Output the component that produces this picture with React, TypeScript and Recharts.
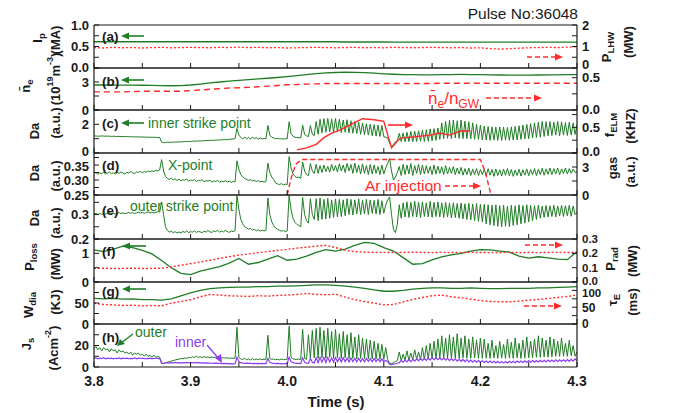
import { LineChart, Line, XAxis, YAxis } from 'recharts'

const F = 'Liberation Sans, Arial, sans-serif'
const GREEN = '#1f7d25'
const RED = '#ff2a2a'
const PURPLE = '#8a3cf0'
const INK = '#1a1a1a'

// time grids (s)
const tFine = Array.from({ length: 251 }, (_, i) => +(3.8 + i * 0.002).toFixed(3))
const tCoarse = Array.from({ length: 51 }, (_, i) => +(3.8 + i * 0.01).toFixed(2))
const xTicks = [3.8, 3.85, 3.9, 3.95, 4.0, 4.05, 4.1, 4.15, 4.2, 4.25, 4.3]

// (a) Ip (MA) and P_LHW (MW), 10 ms samples
const ipMA = [0.61, 0.61, 0.61, 0.61, 0.61, 0.61, 0.61, 0.61, 0.61, 0.61, 0.61, 0.61, 0.61, 0.61, 0.61, 0.61, 0.61, 0.61, 0.61, 0.61, 0.61, 0.61, 0.61, 0.61, 0.61, 0.61, 0.605, 0.605, 0.605, 0.605, 0.605, 0.6, 0.6, 0.6, 0.6, 0.6, 0.6, 0.6, 0.6, 0.6, 0.6, 0.6, 0.6, 0.6, 0.6, 0.6, 0.6, 0.6, 0.6, 0.6, 0.6]
const pLhw = [0.95, 0.93, 0.96, 0.94, 0.95, 0.93, 0.95, 0.96, 0.94, 0.95, 0.96, 0.95, 0.94, 0.96, 0.95, 0.97, 0.95, 0.96, 0.94, 0.95, 0.93, 0.94, 0.95, 0.96, 0.95, 0.94, 0.95, 0.96, 0.94, 0.95, 0.94, 0.96, 0.95, 0.94, 0.95, 0.96, 0.95, 0.94, 0.95, 0.93, 0.94, 0.9, 0.88, 0.9, 0.92, 0.94, 0.95, 0.96, 0.95, 0.97, 0.99]

// (b) line averaged density (1e19 m^-3) and Greenwald fraction
const neLine = [2.68, 2.68, 2.67, 2.67, 2.66, 2.65, 2.64, 2.62, 2.6, 2.62, 2.68, 2.78, 2.9, 3.0, 3.1, 3.18, 3.26, 3.33, 3.4, 3.48, 3.57, 3.68, 3.8, 3.9, 3.97, 4.02, 4.05, 4.04, 4.0, 3.95, 3.88, 3.83, 3.8, 3.78, 3.77, 3.77, 3.78, 3.8, 3.81, 3.8, 3.78, 3.76, 3.75, 3.74, 3.73, 3.74, 3.75, 3.76, 3.77, 3.78, 3.78]
const neGw = [0.28, 0.28, 0.28, 0.28, 0.285, 0.29, 0.29, 0.29, 0.29, 0.29, 0.3, 0.31, 0.32, 0.33, 0.34, 0.345, 0.35, 0.36, 0.37, 0.38, 0.39, 0.395, 0.4, 0.405, 0.41, 0.41, 0.41, 0.41, 0.41, 0.41, 0.41, 0.41, 0.41, 0.41, 0.41, 0.41, 0.415, 0.415, 0.415, 0.415, 0.415, 0.415, 0.415, 0.415, 0.415, 0.415, 0.415, 0.415, 0.415, 0.415, 0.415]

// (c) inner strike point Da (a.u.), 2 ms samples, and f_ELM (kHz)
const daInner = [
  1.18, 1.19, 1.17, 1.18, 1.19, 1.18, 1.17, 1.18, 1.17, 1.16, 1.17, 1.16, 1.15, 1.16, 1.15, 1.14, 1.15, 1.14, 1.13, 1.14, 1.13, 1.12, 1.13, 1.12, 1.11, 1.12, 1.11, 1.1, 1.11, 1.1, 1.09, 1.1, 1.09, 1.08, 1.08,
  0.76, 0.72, 0.73, 0.75, 0.74, 0.76, 0.75, 0.77, 0.76, 0.78, 0.77, 0.79, 0.8, 0.79, 0.81, 0.8, 0.82, 0.83, 0.82, 0.84, 0.85, 0.84, 0.86, 0.87, 0.86, 0.88, 0.89, 0.88, 0.9, 0.91, 0.9, 0.92, 0.93, 0.94, 0.93, 0.95, 0.97, 0.98, 1.0,
  1.72, 1.25, 1.08, 0.98, 1.12, 0.97, 1.1, 0.96, 1.12, 0.98, 1.08, 0.97, 1.05, 0.98, 1.01, 0.99, 1.92, 1.25, 1.1, 1.05, 1.0, 1.02, 0.98, 1.0, 0.97, 0.99, 1.0,
  2.18, 1.35, 1.18, 1.1, 1.08, 1.06, 1.05, 1.94, 1.3, 1.2, 1.15, 1.92, 1.3, 1.22,
  2.2, 1.3, 2.35, 1.4, 2.4, 1.45, 2.42, 1.48, 2.38, 1.45, 2.4, 1.5, 2.35, 1.42, 2.3, 1.45, 2.32, 1.4, 2.25, 1.38, 2.2, 1.35, 2.15, 1.3, 2.1, 1.28, 2.05, 1.25, 2.02, 1.2, 1.98, 1.18, 1.95, 1.15, 1.92, 1.13,
  1.1, 1.05, 0.7, 0.44, 0.6, 0.78, 0.85,
  1.37, 0.8, 1.4, 0.78, 1.45, 0.8, 1.5, 0.79, 1.52, 0.8, 1.55, 0.82, 1.6, 0.8, 1.62, 0.82, 1.68, 0.85, 1.7, 0.88, 1.75,
  0.95, 2.1, 1.0, 2.2, 1.02, 2.28, 1.0, 2.3, 1.05, 2.25, 1.02, 2.3, 1.0, 2.22, 1.0, 2.18, 0.98, 2.1, 0.96, 2.0, 0.95, 1.95,
  0.92, 1.88, 0.9, 1.85, 0.88, 1.82, 0.9, 1.8, 0.88, 1.82, 0.87, 1.8, 0.9, 1.78, 0.88, 1.82, 0.9, 1.85, 0.92, 1.9, 0.95, 1.95, 0.98, 2.0, 1.0, 2.05, 1.05, 2.1, 1.08,
  2.15, 1.1, 2.2, 1.15, 2.18, 1.2, 2.2, 1.22, 2.15, 1.25, 2.2, 1.2, 2.18, 1.25, 2.12, 1.22, 2.15, 1.25, 2.1, 1.3, 2.0,
]
const fElmTime = [4.01, 4.02, 4.03, 4.038, 4.045, 4.055, 4.065, 4.078, 4.09, 4.1, 4.108, 4.117, 4.134, 4.148, 4.158, 4.168, 4.179, 4.189]
const fElm = [0.06, 0.1, 0.17, 0.3, 0.38, 0.45, 0.55, 0.67, 0.65, 0.62, 0.1, 0.29, 0.32, 0.35, 0.39, 0.35, 0.43, 0.43]

// (d) X-point Da (a.u.) and Ar gas puff (a.u.)
const daXpt = [
  0.322, 0.325, 0.319, 0.324, 0.321, 0.326, 0.32, 0.323, 0.327, 0.321, 0.324, 0.32, 0.325, 0.322, 0.327, 0.323, 0.32, 0.326, 0.323, 0.328, 0.324, 0.321, 0.327, 0.325, 0.329, 0.324, 0.328, 0.326, 0.33, 0.327, 0.331, 0.328, 0.332, 0.33, 0.334,
  0.368, 0.33, 0.312, 0.305, 0.302, 0.306, 0.3, 0.304, 0.298, 0.303, 0.297, 0.301, 0.299, 0.304, 0.296, 0.3, 0.298, 0.302, 0.295, 0.299, 0.297, 0.301, 0.294, 0.298, 0.296, 0.3, 0.293, 0.297, 0.295, 0.299, 0.292, 0.296, 0.294, 0.298, 0.293, 0.296, 0.292, 0.295, 0.294,
  0.364, 0.335, 0.318, 0.31, 0.305, 0.302, 0.299, 0.301, 0.297, 0.299, 0.295, 0.298, 0.294, 0.296, 0.293, 0.295,
  0.356, 0.325, 0.31, 0.302, 0.29, 0.287, 0.285, 0.288, 0.284, 0.286, 0.285,
  0.378, 0.34, 0.32, 0.312, 0.308, 0.31, 0.305, 0.36, 0.33, 0.318, 0.315, 0.355, 0.33, 0.322,
  0.352, 0.322, 0.348, 0.325, 0.35, 0.328, 0.345, 0.326, 0.352, 0.33, 0.348, 0.327, 0.354, 0.33, 0.35, 0.325, 0.355, 0.33, 0.352, 0.322, 0.356, 0.325, 0.35, 0.32, 0.354, 0.322, 0.348, 0.318, 0.352, 0.32, 0.35, 0.322, 0.345, 0.318, 0.35, 0.32,
  0.34, 0.355, 0.372, 0.33, 0.3, 0.31, 0.325,
  0.345, 0.315, 0.352, 0.318, 0.35, 0.32, 0.355, 0.315, 0.348, 0.322, 0.352, 0.318, 0.35, 0.32, 0.348, 0.322, 0.345, 0.318, 0.35, 0.32, 0.346, 0.322, 0.344, 0.318, 0.348, 0.32, 0.342, 0.322, 0.345, 0.318, 0.34, 0.32, 0.342, 0.316, 0.338, 0.318, 0.34, 0.315, 0.336, 0.318, 0.338, 0.315, 0.335,
  0.318, 0.336, 0.314, 0.338, 0.316, 0.335, 0.312, 0.337, 0.315, 0.334, 0.313, 0.336, 0.316, 0.338, 0.314, 0.335, 0.312, 0.333, 0.315, 0.336, 0.313, 0.334, 0.316, 0.337, 0.314, 0.335, 0.317, 0.338, 0.315, 0.336, 0.318, 0.339, 0.316, 0.337, 0.319, 0.34, 0.318, 0.338, 0.32, 0.34, 0.318, 0.337, 0.321, 0.34, 0.32, 0.338, 0.322, 0.336, 0.325, 0.328,
]
const gasTime = [4.0, 4.004, 4.009, 4.015, 4.2, 4.205, 4.211]
const gasAr = [0, 1.8, 3.3, 3.8, 3.8, 2.5, 0]

// (e) outer strike point Da (a.u.)
const daOuter = [
  0.302, 0.305, 0.3, 0.304, 0.301, 0.306, 0.302, 0.304, 0.307, 0.303, 0.306, 0.302, 0.305, 0.308, 0.304, 0.307, 0.303, 0.306, 0.309, 0.305, 0.308, 0.304, 0.307, 0.31, 0.306, 0.309, 0.305, 0.308, 0.311, 0.307, 0.31, 0.306, 0.309, 0.312, 0.31,
  0.352, 0.3, 0.25, 0.235, 0.228, 0.232, 0.226, 0.23, 0.224, 0.229, 0.225, 0.231, 0.227, 0.233, 0.226, 0.23, 0.228, 0.234, 0.227, 0.231, 0.229, 0.226, 0.232, 0.228, 0.235, 0.229, 0.227, 0.233, 0.23, 0.236, 0.228, 0.232, 0.229, 0.235, 0.231, 0.227, 0.233, 0.23, 0.234,
  0.378, 0.32, 0.28, 0.262, 0.25, 0.245, 0.24, 0.243, 0.236, 0.24, 0.234, 0.238, 0.232, 0.236, 0.233, 0.235,
  0.368, 0.3, 0.27, 0.255, 0.245, 0.24, 0.236, 0.232, 0.235, 0.23, 0.233,
  0.38, 0.32, 0.285, 0.268, 0.26, 0.255, 0.25, 0.37, 0.3, 0.275, 0.265, 0.365, 0.3, 0.28,
  0.365, 0.275, 0.368, 0.28, 0.362, 0.282, 0.366, 0.285, 0.36, 0.288, 0.364, 0.29, 0.362, 0.292, 0.36, 0.295, 0.365, 0.3, 0.362, 0.298, 0.36, 0.302, 0.364, 0.3, 0.358, 0.303, 0.362, 0.3, 0.36, 0.305, 0.358, 0.302, 0.362, 0.3, 0.356, 0.305,
  0.34, 0.36, 0.372, 0.3, 0.24, 0.226, 0.26,
  0.34, 0.285, 0.348, 0.29, 0.352, 0.288, 0.35, 0.292, 0.354, 0.29, 0.35, 0.288, 0.352, 0.292, 0.348, 0.29, 0.354, 0.288, 0.35, 0.292, 0.352, 0.29, 0.348, 0.288, 0.35, 0.29, 0.346, 0.286, 0.348, 0.288, 0.345, 0.285, 0.347, 0.282, 0.344, 0.28, 0.346, 0.278, 0.343, 0.275, 0.345, 0.272, 0.342,
  0.27, 0.342, 0.262, 0.34, 0.258, 0.338, 0.255, 0.34, 0.252, 0.336, 0.25, 0.338, 0.252, 0.335, 0.25, 0.338, 0.255, 0.336, 0.258, 0.34, 0.262, 0.337, 0.265, 0.34, 0.27, 0.338, 0.275, 0.336, 0.28, 0.338, 0.285, 0.335, 0.288, 0.337, 0.29, 0.336, 0.292, 0.338, 0.29, 0.335, 0.294, 0.337, 0.292, 0.336, 0.295, 0.338, 0.293, 0.335, 0.3, 0.31,
]

// (f) P_loss (MW) and P_rad (MW), 10 ms samples
const pLoss = [1.12, 1.06, 1.15, 1.25, 1.2, 1.1, 0.98, 0.75, 0.5, 0.3, 0.26, 0.38, 0.46, 0.54, 0.66, 0.82, 0.62, 0.68, 0.8, 0.92, 0.76, 0.8, 0.9, 1.03, 1.13, 1.08, 1.15, 1.28, 1.38, 1.35, 1.2, 1.08, 0.85, 0.62, 0.64, 0.77, 0.88, 0.95, 1.0, 1.08, 1.13, 1.12, 1.08, 1.04, 0.9, 0.83, 0.88, 0.84, 0.8, 0.78, 1.06]
const pRad = [0.095, 0.096, 0.094, 0.095, 0.096, 0.094, 0.095, 0.096, 0.105, 0.117, 0.128, 0.14, 0.152, 0.165, 0.177, 0.188, 0.196, 0.205, 0.213, 0.22, 0.228, 0.236, 0.243, 0.25, 0.256, 0.24, 0.222, 0.212, 0.208, 0.206, 0.207, 0.205, 0.206, 0.208, 0.206, 0.205, 0.207, 0.206, 0.205, 0.207, 0.206, 0.205, 0.206, 0.207, 0.205, 0.206, 0.205, 0.206, 0.207, 0.206, 0.205]

// (g) W_dia (kJ) and tau_E (ms)
const wDia = [61, 60, 61, 59, 60, 58, 58, 57, 60, 67, 74, 80, 84, 86, 87, 88, 88, 89, 89, 90, 90, 91, 92, 93, 93, 92, 90, 88, 85, 81, 78, 78, 80, 83, 85, 86, 86, 85, 85, 86, 85, 84, 84, 85, 85, 85, 86, 86, 87, 88, 89]
const tauE = [62, 58, 57, 55, 56, 54, 55, 54, 62, 67, 72, 81, 88, 86, 84, 83, 82, 84, 83, 85, 86, 88, 91, 88, 87, 89, 80, 72, 67, 62, 57, 58, 66, 73, 79, 84, 86, 81, 78, 74, 70, 67, 66, 66, 68, 71, 73, 76, 79, 82, 86]

// (h) divertor Langmuir probe J_s (A cm^-2), 2 ms samples
const jsOuter = [
  17, 19, 16, 18, 15, 18, 16, 17, 14, 17, 15, 16, 13, 16, 14, 15, 13, 14, 12, 14, 11, 13, 12, 13, 11, 12, 10, 12, 10, 11, 9, 11, 9, 10, 9,
  3.5, 3.2, 4, 4.5, 5, 5.5, 6, 6.5, 7, 7.2, 8, 7.5, 8.5, 8, 9, 8.5, 9.5, 9, 10, 9, 9.5, 8.8, 9.6, 9, 9.2, 8.7, 9.4, 8.8, 9.1, 8.5, 9, 8.4, 8.8, 8.2, 8.6, 8, 8.4, 7.9, 8.2,
  37, 9, 7.5, 7, 8, 6.8, 7.5, 6.5, 7.8, 6.6, 7.4, 6.8, 7.6, 6.9, 7.2, 7,
  29.5, 8, 7, 7.5, 6.8, 7.2, 6.6, 7.4, 6.8, 7, 7.2,
  38, 9, 7.5, 7.2, 7, 7.5, 6.8, 35, 8, 7.2, 30, 8, 34, 8.5,
  36, 8, 37, 8.5, 34, 8, 36, 9, 33, 8, 35, 8.5, 31, 8, 33, 8.5, 30, 7.8, 32, 8, 28, 7.5, 30, 8, 27, 7.8, 26, 7.5, 25, 7.6, 24, 7.4, 22, 7.2, 21, 7,
  18, 7, 3.4, 3, 4, 5, 6,
  14, 6, 12, 6.5, 15, 6, 13, 6.5, 16, 7, 14, 6.8, 18, 7, 20, 7.2, 22, 7.5, 24, 7.5, 26,
  8, 29, 8, 27, 8.5, 30, 8, 28, 8.2, 31, 8, 27, 8.5, 29, 8.2, 26, 8, 28, 8.4, 25, 8, 27,
  8, 26, 8.2, 22, 8, 25, 8.5, 20, 8, 24, 8.2, 21, 8, 26, 8.4, 23, 8, 27, 8.5, 22, 8, 25, 8.2, 28, 8.5, 24, 8.6, 26, 9,
  29, 9, 27, 9.5, 25, 9.2, 28, 9.5, 26, 10, 24, 9.8, 27, 10, 22, 10, 25, 10.5, 20, 10, 14,
]
const jsInner = [
  8, 8.5, 7.5, 8.2, 7.8, 8.6, 7.6, 8.3, 7.9, 8.4, 7.5, 8.1, 7.8, 8.5, 7.6, 8.2, 7.9, 8.3, 7.7, 8.1, 7.8, 8.4, 7.6, 8.2, 7.9, 8.3, 7.7, 8, 7.8, 8.2, 7.6, 8.1, 7.9, 8, 7.8,
  3.4, 3.5, 3.8, 4, 3.7, 4.1, 3.8, 4.2, 3.9, 4, 3.7, 4.1, 3.9, 4.2, 3.8, 4, 4.1, 3.9, 4.2, 3.8, 4, 3.7, 3.9, 3.6, 3.8, 3.5, 3.7, 3.4, 3.6, 3.3, 3.5, 3.2, 3.4, 3.1, 3.3, 3, 3.2, 3, 3.1,
  9, 5, 4, 3.6, 3.4, 3.6, 3.3, 3.5, 3.2, 3.4, 3.1, 3.3, 3.2, 3.4, 3.1, 3.2,
  8, 4.5, 3.6, 3.4, 3.2, 3.3, 3.1, 3.2, 3, 3.2, 3.1,
  9, 5, 4, 3.5, 3.4, 3.3, 3.2, 8.5, 4.5, 3.6, 3.4, 8, 4.5, 3.8,
  8.5, 4, 9, 4.5, 8.8, 4.2, 9, 4.6, 8.5, 4.4, 8.8, 4.8, 8.4, 4.6, 8.6, 5, 8.2, 4.8, 8.4, 5, 8, 4.8, 8.2, 5, 7.8, 4.8, 8, 5.2, 7.6, 5, 7.8, 5.2, 7.5, 5, 7.4, 5,
  6, 5, 2.5, 2.2, 2.6, 3, 3.5,
  4, 6, 4.5, 6.5, 4.8, 7, 5, 7.2, 5.5, 7.5, 5.8, 8, 6, 8.2, 6.2, 8.5, 6.5, 8.8, 6.6, 8.6, 6.8,
  8.5, 6.5, 8.2, 6.3, 8, 6, 7.8, 5.8, 7.5, 5.5, 7.2, 5.3, 7, 5, 6.8, 4.8, 6.5, 4.6, 6.2, 4.5, 6, 4.4,
  5.8, 4.2, 5.6, 4, 5.5, 3.9, 5.4, 3.8, 5.3, 3.8, 5.2, 3.7, 5.2, 3.8, 5.3, 3.9, 5.4, 4, 5.5, 4.1, 5.6, 4.2, 5.8, 4.3, 5.9, 4.4, 6, 4.5, 6.1,
  4.6, 6.2, 4.7, 6.3, 4.8, 6.4, 4.9, 6.5, 5, 6.6, 5, 6.7, 5.1, 6.8, 5.2, 7, 5.3, 7.2, 5.4, 7.5, 6,
]

const PL = 94
const PR = 577
const PAD = 10

const pts = (t: number[], v: number[]) => v.map((y, i) => ({ t: t[i], y }))

type Series = { data: { t: number; y: number }[]; axis: 'L' | 'R'; color: string; dash?: string; width?: number }
// label text per tick value; a tuple adds a vertical nudge and font size where neighbouring panels crowd
type Ax = { domain: [number, number]; ticks: number[]; labels: Record<string, string | [string, number, number?]> }

function xTick(axisY: number, withLabels: boolean) {
  return (p: any) => {
    const v = p.payload.value as number
    const major = Math.abs(v * 10 - Math.round(v * 10)) < 1e-6
    return (
      <g>
        <line x1={p.x} x2={p.x} y1={axisY} y2={axisY - 5} stroke={INK} />
        {withLabels && major && (
          <text x={p.x} y={axisY + 19} textAnchor="middle" fontSize={14} fontWeight="bold" fontFamily={F} fill={INK}>
            {v.toFixed(1)}
          </text>
        )}
      </g>
    )
  }
}

function yTick(side: 'L' | 'R', labels: Ax['labels']) {
  return (p: any) => {
    const v = p.payload.value as number
    const x0 = side === 'L' ? PL : PR
    const d = side === 'L' ? 5 : -5
    const raw = labels[String(v)]
    const lab = Array.isArray(raw) ? raw[0] : raw
    const dy = Array.isArray(raw) ? raw[1] : 0
    const fs = (Array.isArray(raw) && raw[2]) || 13
    return (
      <g>
        <line x1={x0} x2={x0 + d} y1={p.y} y2={p.y} stroke={INK} />
        {lab && (
          <text x={side === 'L' ? PL - 5 : PR + 5} y={p.y + fs * 0.35 + dy} textAnchor={side === 'L' ? 'end' : 'start'} fontSize={fs} fontWeight="bold" fontFamily={F} fill={INK}>
            {lab}
          </text>
        )}
      </g>
    )
  }
}

function Panel({ top, bottom, left, right, series, last }: { top: number; bottom: number; left: Ax; right: Ax; series: Series[]; last?: boolean }) {
  const h = bottom - top
  const extra = last ? 30 : PAD
  const axisY = PAD + h
  const frame = { stroke: INK, strokeWidth: 1.2 }
  return (
    <div style={{ position: 'absolute', left: 0, top: top - PAD }}>
      <LineChart width={681} height={h + PAD + extra} margin={{ top: PAD - 1, right: 681 - PR - 1, bottom: extra - 1, left: PL - 1 }}>
        <XAxis xAxisId="b" dataKey="t" type="number" domain={[3.8, 4.3]} ticks={xTicks} interval={0} height={1} allowDataOverflow
          axisLine={frame} tickLine={false} tick={xTick(axisY, !!last)} />
        <XAxis xAxisId="top" orientation="top" dataKey="t" type="number" domain={[3.8, 4.3]} ticks={[3.8, 4.3]} height={1}
          axisLine={frame} tickLine={false} tick={false} />
        <YAxis yAxisId="L" width={1} type="number" domain={left.domain} ticks={left.ticks} interval={0} allowDataOverflow
          axisLine={frame} tickLine={false} tick={yTick('L', left.labels)} />
        <YAxis yAxisId="R" orientation="right" width={1} type="number" domain={right.domain} ticks={right.ticks} interval={0} allowDataOverflow
          axisLine={frame} tickLine={false} tick={yTick('R', right.labels)} />
        {series.map((s, i) => (
          <Line key={i} data={s.data} dataKey="y" xAxisId="b" yAxisId={s.axis} type="linear" dot={false} activeDot={false}
            stroke={s.color} strokeWidth={s.width ?? 1} strokeDasharray={s.dash} isAnimationActive={false} />
        ))}
        {/* empty series so the top axis is always in use */}
        <Line data={[]} dataKey="y" xAxisId="top" yAxisId="R" dot={false} isAnimationActive={false} />
      </LineChart>
    </div>
  )
}

function VT({ x, y, children, size = 13 }: { x: number; y: number; children: any; size?: number }) {
  return (
    <text transform={`translate(${x},${y}) rotate(-90)`} textAnchor="middle" dominantBaseline="central" fontSize={size} fontWeight="bold" fontFamily={F} fill={INK}>
      {children}
    </text>
  )
}

function Arrow({ x1, x2, y, color, dash, left }: { x1: number; x2: number; y: number; color: string; dash?: string; left?: boolean }) {
  const tip = left ? x1 : x2
  const back = left ? tip + 8 : tip - 8
  return (
    <g>
      <line x1={left ? x1 + 6 : x1} x2={left ? x2 : x2 - 6} y1={y} y2={y} stroke={color} strokeWidth={1.6} strokeDasharray={dash} />
      <polygon points={`${tip},${y} ${back},${y - 3.5} ${back},${y + 3.5}`} fill={color} />
    </g>
  )
}

const sub = (s: string) => <tspan dy={4} fontSize={9.5}>{s}</tspan>
const sup = (s: string) => <tspan dy={-5} fontSize={9}>{s}</tspan>

export default function App() {
  const none: Ax = { domain: [0, 1], ticks: [], labels: {} }
  return (
    <div style={{ position: 'absolute', left: 0, top: 0, width: 681, height: 413, background: '#fff', fontFamily: F }}>
      <Panel top={25} bottom={68}
        left={{ domain: [0, 1], ticks: [0, 0.25, 0.5, 0.75, 1], labels: { '0': ['0.0', -1], '0.5': '0.5', '1': '1.0' } }}
        right={{ domain: [0, 2], ticks: [0, 0.5, 1, 1.5, 2], labels: { '0': ['0', -4], '1': '1', '2': '2' } }}
        series={[
          { data: pts(tCoarse, ipMA), axis: 'L', color: GREEN, width: 1.3 },
          { data: pts(tCoarse, pLhw), axis: 'R', color: RED, dash: '2 2', width: 1.3 },
        ]} />
      <Panel top={68} bottom={110}
        left={{ domain: [0, 4.5], ticks: [0, 1.5, 3, 4.5], labels: { '0': '0', '3': '3' } }}
        right={{ domain: [0, 0.65], ticks: [0, 0.25, 0.5], labels: { '0': ['0.0', -1], '0.5': '0.5' } }}
        series={[
          { data: pts(tCoarse, neLine), axis: 'L', color: GREEN, width: 1.3 },
          { data: pts(tCoarse, neGw), axis: 'R', color: RED, dash: '6 4', width: 1.4 },
        ]} />
      <Panel top={110} bottom={153}
        left={{ domain: [0, 3], ticks: [0, 1, 2, 3], labels: { '0': ['0', -2], '2': '2' } }}
        right={{ domain: [0, 0.84], ticks: [0, 0.25, 0.5, 0.75], labels: { '0': ['0.0', -2], '0.5': '0.5' } }}
        series={[
          { data: pts(tFine, daInner), axis: 'L', color: GREEN },
          { data: pts(fElmTime, fElm), axis: 'R', color: RED, width: 1.4 },
        ]} />
      <Panel top={153} bottom={195}
        left={{ domain: [0.25, 0.39], ticks: [0.25, 0.275, 0.3, 0.325, 0.35, 0.375], labels: { '0.25': '0.25', '0.3': '0.30', '0.35': ['0.35', 1] } }}
        right={{ domain: [0, 4.5], ticks: [0, 1.5, 3, 4.5], labels: { '0': '0', '3': '3' } }}
        series={[
          { data: pts(tFine, daXpt), axis: 'L', color: GREEN },
          { data: pts(gasTime, gasAr), axis: 'R', color: RED, dash: '5 3', width: 1.4 },
        ]} />
      <Panel top={195} bottom={239}
        left={{ domain: [0.2, 0.38], ticks: [0.2, 0.25, 0.3, 0.35], labels: { '0.2': '0.2', '0.3': '0.3' } }}
        right={none}
        series={[{ data: pts(tFine, daOuter), axis: 'L', color: GREEN }]} />
      <Panel top={239} bottom={282}
        left={{ domain: [0, 1.5], ticks: [0, 0.5, 1, 1.5], labels: { '0': '0', '1': '1' } }}
        right={{ domain: [0, 0.3], ticks: [0, 0.1, 0.2, 0.3], labels: { '0': ['0.0', -1, 11.5], '0.1': ['0.1', 0, 11.5], '0.2': ['0.2', 0, 11.5], '0.3': ['0.3', 0, 11.5] } }}
        series={[
          { data: pts(tCoarse, pLoss), axis: 'L', color: GREEN, width: 1.3 },
          { data: pts(tCoarse, pRad), axis: 'R', color: RED, dash: '2 2', width: 1.4 },
        ]} />
      <Panel top={282} bottom={324}
        left={{ domain: [0, 100], ticks: [0, 25, 50, 75, 100], labels: { '0': '0', '50': '50' } }}
        right={{ domain: [0, 125], ticks: [0, 25, 50, 75, 100, 125], labels: { '0': ['0', 0, 12], '50': ['50', 1, 12], '100': ['100', 3, 11.5] } }}
        series={[
          { data: pts(tCoarse, wDia), axis: 'L', color: GREEN, width: 1.3 },
          { data: pts(tCoarse, tauE), axis: 'R', color: RED, dash: '2 2', width: 1.4 },
        ]} />
      <Panel top={324} bottom={367} last
        left={{ domain: [0, 40], ticks: [0, 10, 20, 30], labels: { '0': '0', '20': '20' } }}
        right={none}
        series={[
          { data: pts(tFine, jsOuter), axis: 'L', color: GREEN },
          { data: pts(tFine, jsInner), axis: 'L', color: PURPLE, width: 1.2 },
        ]} />

      <svg width={681} height={413} style={{ position: 'absolute', left: 0, top: 0, pointerEvents: 'none' }}>
        <text x={578} y={19} textAnchor="end" fontSize={15.5} fontFamily={F} fill={INK}>Pulse No:36048</text>
        <text x={336} y={407} textAnchor="middle" fontSize={15} fontWeight="bold" fontFamily={F} fill={INK}>Time (s)</text>

        {/* left titles */}
        <VT x={37} y={38}>I{sub('p')}</VT>
        <VT x={55} y={40}>(MA)</VT>
        <VT x={25} y={86}>{'n\u0304'}{sub('e')}</VT>
        <VT x={55} y={79}>(10{sup('19')}<tspan dy={5}>m</tspan>{sup('-3')}<tspan dy={5}>)</tspan></VT>
        <VT x={34} y={131}>Da</VT>
        <VT x={55} y={123}>(a.u.)</VT>
        <VT x={34} y={173}>Da</VT>
        <VT x={55} y={176}>(a.u.)</VT>
        <VT x={34} y={218}>Da</VT>
        <VT x={55} y={223}>(a.u.)</VT>
        <VT x={29} y={257}>P{sub('loss')}</VT>
        <VT x={55} y={264}>(MW)</VT>
        <VT x={28} y={305}>W{sub('dia')}</VT>
        <VT x={55} y={302}>(KJ)</VT>
        <VT x={26} y={344}>J{sub('s')}</VT>
        <VT x={53} y={348}>(Acm{sup('-2')}<tspan dy={5}>)</tspan></VT>

        {/* right titles */}
        <VT x={606} y={47}>P{sub('LHW')}</VT>
        <VT x={628} y={42}>(MW)</VT>
        <VT x={609} y={125}>f{sub('ELM')}</VT>
        <VT x={630} y={126}>(KHZ)</VT>
        <VT x={612} y={168}>gas</VT>
        <VT x={630} y={172}>(a.u.)</VT>
        <VT x={610} y={259}>P{sub('rad')}</VT>
        <VT x={632} y={261}>(MW)</VT>
        <VT x={612} y={300}>{'\u03c4'}{sub('E')}</VT>
        <VT x={632} y={302}>(ms)</VT>

        {/* panel tags */}
        {[['(a)', 36], ['(b)', 81], ['(c)', 123], ['(d)', 165], ['(e)', 210], ['(f)', 251], ['(g)', 291], ['(h)', 337]].map(([s, y]) => (
          <text key={s as string} x={102} y={(y as number) + 5} fontSize={13.5} fontWeight="bold" fontFamily={F} fill={INK}>{s}</text>
        ))}
        <Arrow x1={121} x2={144} y={36} color={GREEN} left />
        <Arrow x1={121} x2={144} y={80} color={GREEN} left />
        <Arrow x1={121} x2={144} y={123} color={GREEN} left />
        <Arrow x1={122} x2={146} y={246} color={GREEN} left />
        <Arrow x1={122} x2={146} y={289} color={GREEN} left />
        <text x={148} y={128} fontSize={14} fontFamily={F} fill={GREEN}>inner strike point</text>
        <text x={168} y={170} fontSize={14} fontFamily={F} fill={GREEN}>X-point</text>
        <text x={130} y={211} fontSize={14} fontFamily={F} fill={GREEN}>outer strike point</text>

        <text x={135} y={337} fontSize={14} fontFamily={F} fill={GREEN}>outer</text>
        <line x1={133} y1={334} x2={121} y2={343} stroke={GREEN} strokeWidth={1.3} />
        <polygon points="117,346 120,339 125,344" fill={GREEN} />
        <text x={175} y={347} fontSize={14} fontFamily={F} fill={PURPLE}>inner</text>
        <line x1={207} y1={345} x2={219} y2={359} stroke={PURPLE} strokeWidth={1.3} />
        <polygon points="222,363 215,358 221,354" fill={PURPLE} />

        {/* red annotations */}
        <Arrow x1={527} x2={563} y={57} color={RED} dash="5 3" />
        <text x={428} y={104} fontSize={17} fontFamily={F} fill={RED}>{'n\u0304'}<tspan dy={4} fontSize={12}>e</tspan><tspan dy={-4}>/n</tspan><tspan dy={4} fontSize={12}>GW</tspan></text>
        <Arrow x1={486} x2={542} y={98} color={RED} dash="5 3" />
        <Arrow x1={388} x2={413} y={125} color={RED} />
        <text x={365} y={191} fontSize={15.5} fontFamily={F} fill={RED}>Ar injection</text>
        <Arrow x1={445} x2={481} y={186} color={RED} dash="5 3" />
        <Arrow x1={525} x2={563} y={245} color={RED} dash="5 3" />
        <Arrow x1={524} x2={562} y={306} color={RED} dash="5 3" />
      </svg>
    </div>
  )
}
